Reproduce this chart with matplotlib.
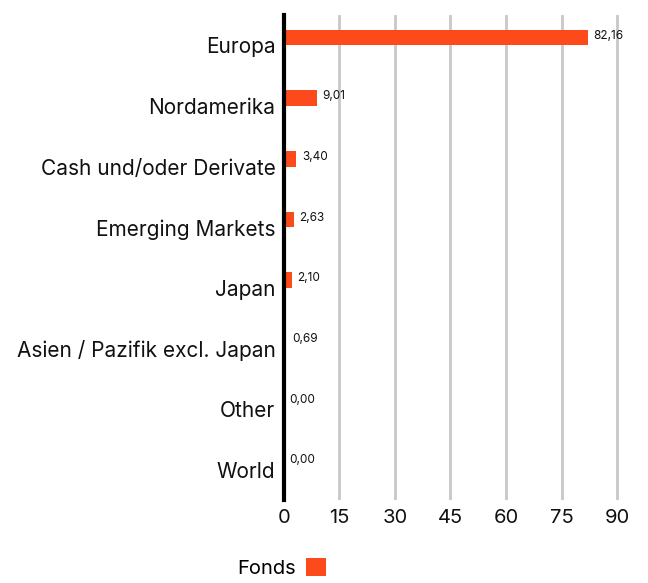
import matplotlib.pyplot as plt
import numpy as np

plt.rcParams['font.family'] = ['Inter', 'DejaVu Sans']

# data
categories = ['Europa', 'Nordamerika', 'Cash und/oder Derivate', 'Emerging Markets',
              'Japan', 'Asien / Pazifik excl. Japan', 'Other', 'World']
values = [82.16, 9.01, 3.40, 2.63, 2.10, 0.69, 0.00, 0.00]
value_labels = ['82,16', '9,01', '3,40', '2,63', '2,10', '0,69', '0,00', '0,00']
xticks = [0, 15, 30, 45, 60, 75, 90]
series_name = 'Fonds'

bar_color = '#fc4a1a'

fig = plt.figure(figsize=(6.48, 5.83), dpi=100)
ax = fig.add_axes([0.438, 0.142, 0.52, 0.832])

y = np.arange(len(categories))
bar_y = y - 0.13
ax.barh(bar_y, values, height=0.26, color=bar_color, label=series_name, zorder=3)

for by, v, lab in zip(bar_y, values, value_labels):
    ax.text(v + 1.5, by - 0.03, lab, fontsize=8.5, ha='left', va='center', color='#111111', zorder=4)

ax.set_ylim(len(categories) - 0.5, -0.5)
ax.set_xlim(0, 91)
ax.set_yticks(y)
ax.set_yticklabels(categories, fontsize=15, color='#111111')
ax.set_xticks(xticks)
ax.set_xticklabels([str(t) for t in xticks], fontsize=14.5, color='#111111')
ax.tick_params(length=0, pad=6)
ax.tick_params(axis='y', pad=6)

ax.grid(axis='x', color='#c8c8c8', linewidth=2, zorder=0)
for s in ['top', 'right', 'bottom']:
    ax.spines[s].set_visible(False)
ax.spines['left'].set_linewidth(3)
ax.spines['left'].set_color('black')
ax.spines['left'].set_zorder(5)

fig.legend(loc='center', bbox_to_anchor=(0.435, 0.025), frameon=False,
           markerfirst=False, fontsize=14.5, handlelength=1.0, handleheight=1.0,
           handletextpad=0.5)

plt.savefig('out.png', dpi=100)
